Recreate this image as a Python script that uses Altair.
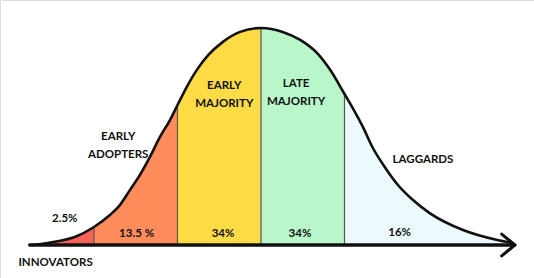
import altair as alt
import pandas as pd

# Curve: position in standard deviations, height relative to peak
curve_x = [-2.74, -2.49, -2.23, -2.0, -1.81, -1.69, -1.57, -1.45, -1.33, -1.21, -1.09, -1.0,
           -0.89, -0.77, -0.63, -0.46, -0.25, 0.0, 0.26, 0.47, 0.67, 0.83, 1.0, 1.07, 1.22,
           1.34, 1.49, 1.63, 1.82, 2.02, 2.42, 2.83, 3.0]
curve_h = [0.0, 0.014, 0.037, 0.083, 0.138, 0.184, 0.253, 0.323, 0.406, 0.498, 0.576, 0.645,
           0.728, 0.806, 0.876, 0.935, 0.982, 1.0, 0.982, 0.945, 0.885, 0.806, 0.696, 0.65, 0.544,
           0.447, 0.355, 0.281, 0.207, 0.147, 0.069, 0.023, 0.01]

segments = ["Innovators", "Early adopters", "Early majority", "Late majority", "Laggards"]
seg_start = [-2.74, -2.0, -1.0, 0.0, 1.0]
seg_end = [-2.0, -1.0, 0.0, 1.0, 3.0]
seg_colors = ["#F5625A", "#FF8C5A", "#FFDC46", "#B9F6C9", "#ECFAFD"]
boundaries = [-2.0, -1.0, 0.0, 1.0]

# text labels and where they sit (data units; multi-line labels anchored at first line)
label_text = ["EARLY\nADOPTERS", "EARLY\nMAJORITY", "LATE\nMAJORITY", "LAGGARDS", "INNOVATORS",
              "2.5%", "13.5 %", "34%", "34%", "16%"]
label_x = [-1.71, -0.44, 0.42, 1.94, -2.46, -2.35, -1.49, -0.455, 0.467, 1.66]
label_y = [0.498, 0.733, 0.742, 0.392, -0.083, 0.12, 0.051, 0.051, 0.051, 0.055]

curve = pd.DataFrame({"x": curve_x, "h": curve_h})
rows = []
for name, a, b in zip(segments, seg_start, seg_end):
    for x, h in zip(curve_x, curve_h):
        if a - 1e-9 <= x <= b + 1e-9:
            rows.append({"segment": name, "x": x, "h": h})
areas = pd.DataFrame(rows)
bound_df = pd.DataFrame({"x": boundaries, "y0": [0.0] * 4,
                         "h": [curve_h[curve_x.index(b)] for b in boundaries]})
labels = pd.DataFrame({"t": label_text, "x": label_x, "y": label_y})

xs = alt.Scale(domain=[-3.1257, 3.2695], nice=False, zero=False)
ys = alt.Scale(domain=[-0.152, 1.129], nice=False, zero=False)
X = lambda f="x": alt.X(f + ":Q", scale=xs, axis=None)
Y = lambda f: alt.Y(f + ":Q", scale=ys, axis=None)

area = alt.Chart(areas).mark_area(interpolate="monotone").encode(
    x=X(), y=alt.Y("h:Q", scale=ys, axis=None, stack=None),
    color=alt.Color("segment:N", scale=alt.Scale(domain=segments, range=seg_colors), legend=None),
    detail="segment:N",
)
rules = alt.Chart(bound_df).mark_rule(color="#555555", strokeWidth=1.2).encode(
    x=X(), y=Y("y0"), y2="h:Q")
line = alt.Chart(curve).mark_line(interpolate="monotone", color="#111111", strokeWidth=2.6,
                                  strokeCap="round").encode(x=X(), y=Y("h"))
axis_df = pd.DataFrame({"x": [-2.77], "x2": [3.04], "y": [0.0]})
base = alt.Chart(axis_df).mark_rule(color="#111111", strokeWidth=3.5, strokeCap="round").encode(
    x=X(), x2="x2:Q", y=Y("y"))
arrow_df = pd.DataFrame({"x": [3.04], "y": [0.0]})
arrow = alt.Chart(arrow_df).mark_point(
    shape="M -1.2 -1 L 0 0 L -1.2 1", filled=False, color="#111111", strokeWidth=3,
    size=480, opacity=1, strokeCap="round", strokeJoin="round").encode(x=X(), y=Y("y"))
text = alt.Chart(labels).mark_text(font="Lato", fontSize=11.5, fontWeight="bold", lineBreak="\n",
                                   lineHeight=18, color="#111111").encode(
    x=X(), y=Y("y"), text="t:N")

chart = alt.layer(area, rules, line, base, arrow, text).properties(
    width=534, height=278, padding=0, autosize=alt.AutoSizeParams(type="none")
).configure_view(stroke=None).configure(background="white")

chart.save("out.html", embed_options={"renderer": "svg", "actions": False})
